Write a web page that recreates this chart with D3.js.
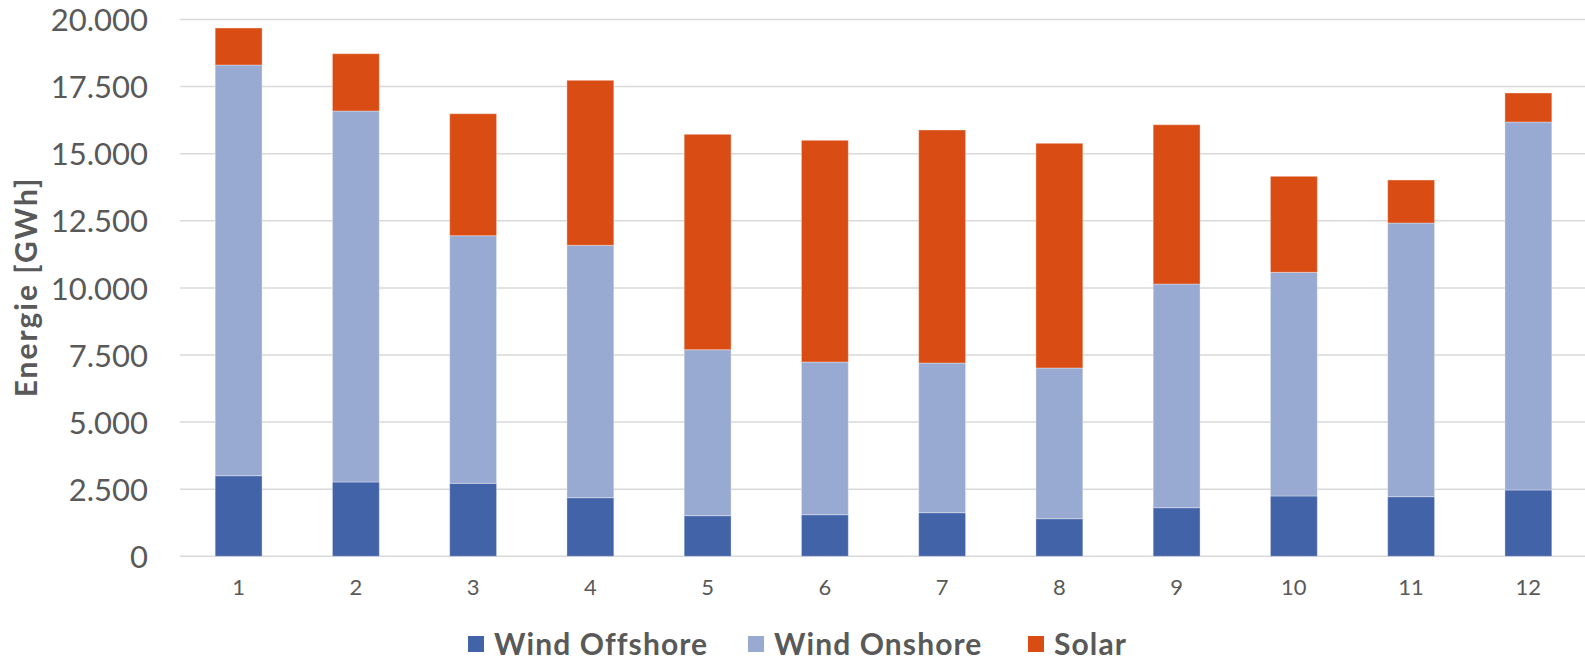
<!DOCTYPE html>
<html>
<head>
<meta charset="utf-8">
<script src="https://cdn.jsdelivr.net/npm/d3@7"></script>
<style>
  html, body { margin: 0; padding: 0; background: #ffffff; }
  svg { display: block; font-family: "Lato", "Open Sans", sans-serif; }
</style>
</head>
<body>
<svg id="chart" width="1585" height="660"></svg>
<script>
// Monthly energy generation (GWh), stacked by source
const months = ["1", "2", "3", "4", "5", "6", "7", "8", "9", "10", "11", "12"];
const windOffshore = [3003, 2768, 2720, 2184, 1513, 1550, 1625, 1401, 1811, 2247, 2221, 2470];
const windOnshore  = [15302, 13823, 9225, 9403, 6184, 5689, 5577, 5615, 8334, 8334, 10197, 13711];
const solar        = [1378, 2135, 4545, 6148, 8026, 8260, 8681, 8372, 5935, 3577, 1602, 1081];
const yTicks = [0, 2500, 5000, 7500, 10000, 12500, 15000, 17500, 20000];
const seriesNames = ["Wind Offshore", "Wind Onshore", "Solar"];
const seriesColors = ["#4363a8", "#98aad1", "#d94c14"];

const rows = months.map((m, i) => ({
  month: m,
  "Wind Offshore": windOffshore[i],
  "Wind Onshore": windOnshore[i],
  "Solar": solar[i]
}));

const svg = d3.select("#chart");
const plot = { left: 180, right: 1587, top: 19.5, bottom: 556.3 };

const x = d3.scaleBand().domain(months).range([plot.left, plot.right]).paddingInner(0.6).paddingOuter(0.3);
const y = d3.scaleLinear().domain([0, 20000]).range([plot.bottom, plot.top]);

const fmt = v => d3.format(",")(v).replace(/,/g, ".");

// Horizontal gridlines
svg.append("g")
  .selectAll("line")
  .data(yTicks)
  .join("line")
  .attr("x1", plot.left)
  .attr("x2", 1585)
  .attr("y1", d => y(d))
  .attr("y2", d => y(d))
  .attr("stroke", "#d9d9d9")
  .attr("stroke-width", 1.5);

// Y axis labels
const yAxis = d3.axisLeft(y).tickValues(yTicks).tickFormat(fmt).tickSize(0).tickPadding(0);
const yG = svg.append("g").attr("transform", "translate(148,0)").call(yAxis);
yG.select(".domain").remove();
yG.selectAll("text")
  .attr("fill", "#595959")
  .attr("font-size", 31)
  .attr("font-family", "Lato, sans-serif")
  .attr("dy", "0.36em");

// X axis labels
const xAxis = d3.axisBottom(x).tickSize(0).tickPadding(0);
const xG = svg.append("g").attr("transform", "translate(0,587)").call(xAxis);
xG.select(".domain").remove();
xG.selectAll("text")
  .attr("fill", "#595959")
  .attr("font-size", 22)
  .attr("font-family", "Lato, sans-serif")
  .attr("dy", "0.36em");

// Stacked bars
const stacked = d3.stack().keys(seriesNames)(rows);
svg.append("g")
  .selectAll("g")
  .data(stacked)
  .join("g")
  .attr("fill", (d, i) => seriesColors[i])
  .selectAll("rect")
  .data(d => d)
  .join("rect")
  .attr("x", d => x(d.data.month))
  .attr("width", x.bandwidth())
  .attr("y", d => y(d[1]))
  .attr("height", d => y(d[0]) - y(d[1]))
  .attr("stroke", "rgba(255,255,255,0.35)")
  .attr("stroke-width", 1);

// Y axis title
svg.append("text")
  .attr("transform", "translate(37,287) rotate(-90)")
  .attr("text-anchor", "middle")
  .attr("fill", "#595959")
  .attr("font-size", 30)
  .attr("font-weight", "bold")
  .attr("letter-spacing", 2)
  .attr("font-family", "Lato, sans-serif")
  .text("Energie [GWh]");

// Legend
const legendX = [468, 748, 1028];
const legend = svg.append("g")
  .selectAll("g")
  .data(seriesNames)
  .join("g")
  .attr("transform", (d, i) => `translate(${legendX[i]},636)`);
legend.append("rect")
  .attr("width", 16)
  .attr("height", 16)
  .attr("fill", (d, i) => seriesColors[i]);
legend.append("text")
  .attr("x", 26)
  .attr("y", 8)
  .attr("dy", "0.36em")
  .attr("fill", "#595959")
  .attr("font-size", 30)
  .attr("font-weight", "bold")
  .attr("letter-spacing", 1.1)
  .attr("font-family", "Lato, sans-serif")
  .text(d => d);
</script>
</body>
</html>
